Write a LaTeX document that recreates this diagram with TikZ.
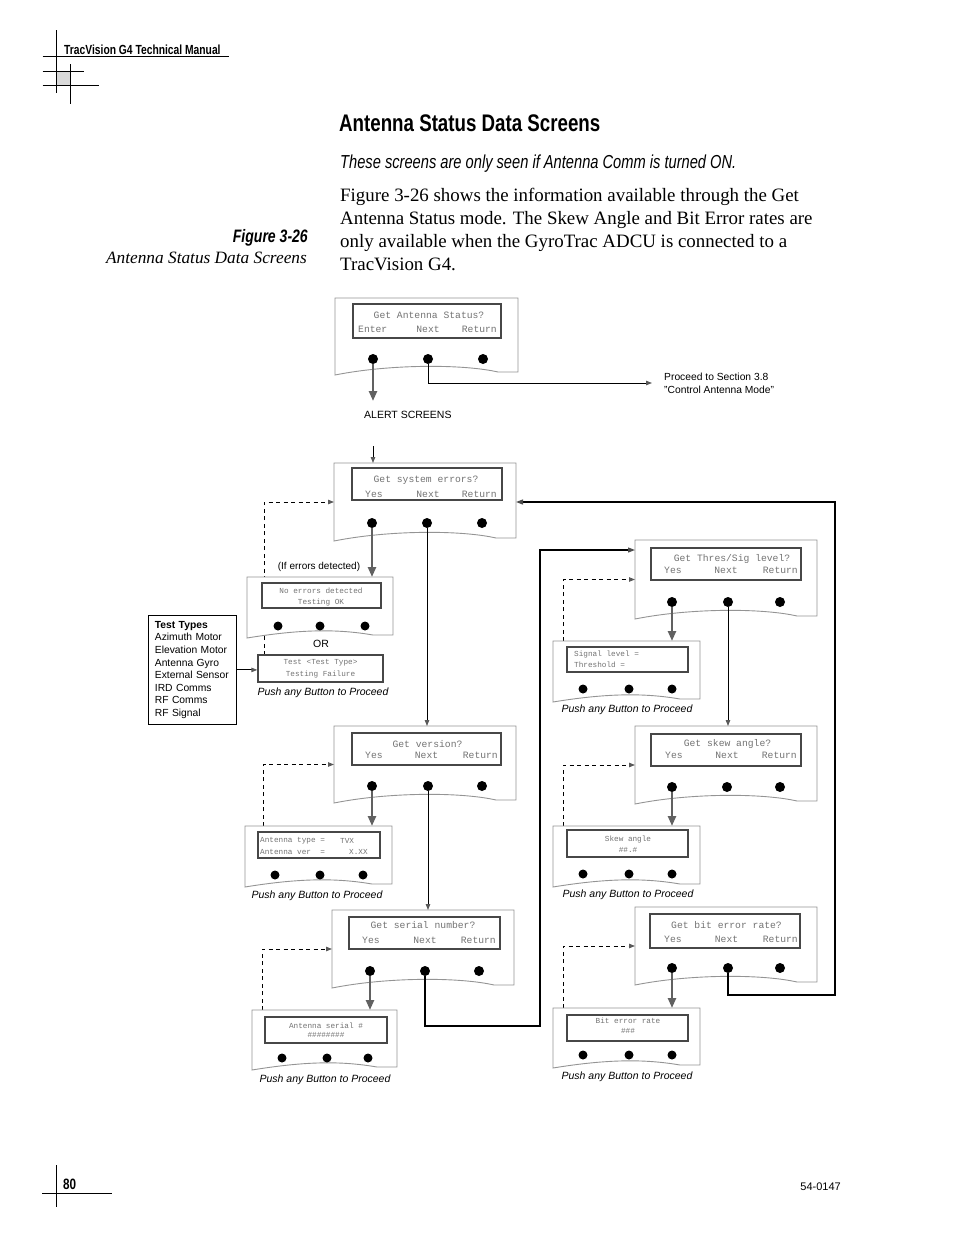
\documentclass[tikz,border=0pt]{standalone}
\usepackage{fontspec}
\setmainfont{Liberation Serif}
\setsansfont{Liberation Sans}
\newfontfamily\condfont[FakeStretch=0.78]{Liberation Sans}
\newfontfamily\lcdfont{Liberation Mono}
\usetikzlibrary{arrows.meta}
\pgfdeclarelayer{bg}
\pgfsetlayers{bg,main}
\tikzset{
  panelline/.style={draw=black!42, line width=0.9pt, fill=white},
  lcdbox/.style={draw=black!72, line width=1.8pt},
  slcdbox/.style={draw=black!72, line width=1.4pt},
  btn/.style={circle, fill=black, draw=none, inner sep=0pt, minimum size=10pt},
  sbtn/.style={circle, fill=black, draw=none, inner sep=0pt, minimum size=9pt},
  lcdt/.style={font=\lcdfont\fontsize{9.7}{10}\selectfont, text=black!55, inner sep=0pt},
  slcdt/.style={font=\lcdfont\fontsize{7.7}{8}\selectfont, text=black!55, inner sep=0pt},
  lbl/.style={font=\sffamily\fontsize{10.5}{12}\selectfont, inner sep=0pt},
  push/.style={font=\sffamily\itshape\fontsize{10.5}{12}\selectfont, inner sep=0pt},
  yesarr/.style={draw=black!62, line width=2.4pt, -{Triangle[length=10pt,width=8pt]}},
  thinarr/.style={draw=black, line width=0.9pt, -{Triangle[length=6pt,width=4.5pt,color=black!65]}},
  loopline/.style={draw=black, line width=1.2pt, -{Triangle[length=7pt,width=5pt,color=black!70]}},
  dasharr/.style={draw=black, line width=0.9pt, dash pattern=on 4pt off 3.5pt, -{Triangle[length=6pt,width=4.5pt,color=black!65]}},
  bodyt/.style={anchor=base west, inner sep=0pt, font=\fontsize{18.9}{23}\selectfont},
}
% #1 name, #2 x1, #3 x2, #4 top, #5 bottom, #6 curve depth
\newcommand\scrpanel[6]{%
  \draw[panelline] (#2,#4) -- (#3,#4) -- (#3,#5-3) -- (#3-20,#5-3)
     .. controls (#3-55,#5-#6) and (#2+55,#5-#6) .. (#2,#5) -- cycle;
  \coordinate (#1-n) at ({(#2+#3)/2},#4);
  \coordinate (#1-w) at (#2,{(#4+#5)/2});
  \coordinate (#1-e) at (#3,{(#4+#5)/2});
  \coordinate (#1-wt) at (#2,#4+10);
}
\begin{document}
\begin{tikzpicture}[x=1pt,y=-1pt]
\useasboundingbox (0,0) rectangle (954,1235);

% ---------- header ----------
\fill[black!15] (56.5,71.5) rectangle (70.5,85);
\draw[line width=0.8pt] (56.5,30) -- (56.5,93);
\draw[line width=0.8pt] (42.5,56.5) -- (229,56.5);
\draw[line width=0.8pt] (70.5,64) -- (70.5,104);
\draw[line width=0.8pt] (42.5,71.5) -- (84,71.5);
\draw[line width=0.8pt] (42.5,85) -- (99,85);
\node[anchor=base west, inner sep=0pt, font=\condfont\bfseries\fontsize{13.2}{15}\selectfont] (hdr) at (64,54) {TracVision G4 Technical Manual};

% ---------- footer ----------
\draw[line width=0.8pt] (56.5,1165) -- (56.5,1207);
\draw[line width=0.8pt] (42,1193) -- (112,1193);
\node[anchor=base west, inner sep=0pt, font=\condfont\bfseries\fontsize{15}{17}\selectfont] (pg) at (63,1189) {80};
\node[anchor=base east, inner sep=0pt, font=\sffamily\fontsize{11}{13}\selectfont] (docno) at (841,1190) {54-0147};

% ---------- titles and text ----------
\node[anchor=base west, inner sep=0pt, font=\condfont\bfseries\fontsize{24}{28}\selectfont] (title) at (339,131) {Antenna Status Data Screens};
\node[anchor=base west, inner sep=0pt, font=\condfont\itshape\fontsize{18.8}{22}\selectfont] (subtitle) at (340,168) {These screens are only seen if Antenna Comm is turned ON.};
\node[bodyt] (p1) at (340,201) {Figure 3-26 shows the information available through the Get};
\node[bodyt] (p2) at (340,224) {Antenna Status mode. The Skew Angle and Bit Error rates are};
\node[bodyt] (p3) at (340,247) {only available when the GyroTrac ADCU is connected to a};
\node[bodyt] (p4) at (340,270) {TracVision G4.};
\node[anchor=base east, inner sep=0pt, font=\condfont\bfseries\itshape\fontsize{18}{21}\selectfont] (fig) at (308,242) {Figure 3-26};
\node[anchor=base east, inner sep=0pt, font=\itshape\fontsize{17.3}{20}\selectfont] (cap) at (307,263) {Antenna Status Data Screens};

% ---------- panel A ----------
\scrpanel{A}{335}{518}{298}{375}{11}
\draw[lcdbox] (353,304) rectangle (501,338);
\node[lcdt] at (429,315) {Get Antenna Status?};
\node[lcdt,anchor=west] at (358,329) {Enter};
\node[lcdt] at (428,329) {Next};
\node[lcdt,anchor=east] at (497,329) {Return};
\node[btn] (A1) at (373,359) {};
\node[btn] (A2) at (428,359) {};
\node[btn] (A3) at (483,359) {};

% ---------- panel B ----------
\scrpanel{B}{334}{516}{463}{541}{11}
\draw[lcdbox] (352,468) rectangle (502,500);
\node[lcdt] at (426,480) {Get system errors?};
\node[lcdt,anchor=west] at (365,494) {Yes};
\node[lcdt] at (428,494) {Next};
\node[lcdt,anchor=east] at (497,494) {Return};
\node[btn] (B1) at (372,523) {};
\node[btn] (B2) at (427,523) {};
\node[btn] (B3) at (482,523) {};

% ---------- panel C ----------
\scrpanel{C}{334}{516}{726}{803}{11}
\draw[lcdbox] (352,733) rectangle (501,765);
\node[lcdt] at (427.5,744) {Get version?};
\node[lcdt,anchor=west] at (365,755) {Yes};
\node[lcdt] at (426.5,755) {Next};
\node[lcdt,anchor=east] at (498,755) {Return};
\node[btn] (C1) at (372,786) {};
\node[btn] (C2) at (428,786) {};
\node[btn] (C3) at (482,786) {};

% ---------- panel D ----------
\scrpanel{D}{332}{514}{910}{988}{11}
\draw[lcdbox] (349,917) rectangle (500,949);
\node[lcdt] at (423,925) {Get serial number?};
\node[lcdt,anchor=west] at (362,940) {Yes};
\node[lcdt] at (425,940) {Next};
\node[lcdt,anchor=east] at (496,940) {Return};
\node[btn] (D1) at (370,971) {};
\node[btn] (D2) at (425,971) {};
\node[btn] (D3) at (479,971) {};

% ---------- panel E ----------
\scrpanel{E}{635}{817}{540}{619}{11}
\draw[lcdbox] (651,548) rectangle (801,580);
\node[lcdt] at (732,559) {Get Thres/Sig level?};
\node[lcdt,anchor=west] at (664,570) {Yes};
\node[lcdt] at (726,570) {Next};
\node[lcdt,anchor=east] at (798,570) {Return};
\node[btn] (E1) at (672,602) {};
\node[btn] (E2) at (728,602) {};
\node[btn] (E3) at (780,602) {};

% ---------- panel F ----------
\scrpanel{F}{635}{817}{726}{804}{11}
\draw[lcdbox] (651,734) rectangle (801,766);
\node[lcdt] at (727.5,744) {Get skew angle?};
\node[lcdt,anchor=west] at (665,755) {Yes};
\node[lcdt] at (727,755) {Next};
\node[lcdt,anchor=east] at (797,755) {Return};
\node[btn] (F1) at (672,787) {};
\node[btn] (F2) at (727,787) {};
\node[btn] (F3) at (780,787) {};

% ---------- panel G ----------
\scrpanel{G}{635}{817}{907}{985}{11}
\draw[lcdbox] (650,914) rectangle (800,948);
\node[lcdt] at (726.5,925) {Get bit error rate?};
\node[lcdt,anchor=west] at (664,939) {Yes};
\node[lcdt] at (726.5,939) {Next};
\node[lcdt,anchor=east] at (798,939) {Return};
\node[btn] (G1) at (672,968) {};
\node[btn] (G2) at (728,968) {};
\node[btn] (G3) at (780,968) {};

% ---------- small panels ----------
\scrpanel{NE}{247}{393}{577}{638}{9}
\draw[slcdbox] (262,583) rectangle (381,608);
\node[slcdt] at (321,591) {No errors detected};
\node[slcdt] at (321,602) {Testing OK};
\node[sbtn] (NE1) at (278,626) {};
\node[sbtn] (NE2) at (320,626) {};
\node[sbtn] (NE3) at (365,626) {};

\node[slcdbox, minimum width=125pt, minimum height=27pt, inner sep=0pt] (TB) at (320.5,668.5) {};
\node[slcdt] at (320.5,663) {Test <Test Type>};
\node[slcdt] at (320.5,674) {Testing Failure};

\scrpanel{AT}{245}{392}{826}{887}{9}
\draw[slcdbox] (258,832) rectangle (380,858);
\node[slcdt,anchor=west] at (260,841) {Antenna type =};
\node[slcdt,anchor=west] at (340,841) {TVX};
\node[slcdt,anchor=west] at (260,852) {Antenna ver\ \ =};
\node[slcdt,anchor=west] at (349,852) {X.XX};
\node[sbtn] (AT1) at (275,875) {};
\node[sbtn] (AT2) at (320,875) {};
\node[sbtn] (AT3) at (363,875) {};

\scrpanel{AS}{252}{397}{1010}{1070}{9}
\draw[slcdbox] (265,1017) rectangle (387,1043);
\node[slcdt] at (326,1026) {Antenna serial \#};
\node[slcdt] at (326,1035) {\#\#\#\#\#\#\#\#};
\node[sbtn] (AS1) at (282,1058) {};
\node[sbtn] (AS2) at (327,1058) {};
\node[sbtn] (AS3) at (368,1058) {};

\scrpanel{SG}{553}{700}{641}{702}{9}
\draw[slcdbox] (567,647) rectangle (688,672);
\node[slcdt,anchor=west] at (574,654) {Signal level =};
\node[slcdt,anchor=west] at (574,665) {Threshold =};
\node[sbtn] (SG1) at (583,689) {};
\node[sbtn] (SG2) at (629,689) {};
\node[sbtn] (SG3) at (672,689) {};

\scrpanel{SK}{553}{700}{826}{887}{9}
\draw[slcdbox] (567,830) rectangle (688,857);
\node[slcdt] at (628,839) {Skew angle};
\node[slcdt] at (628,850) {\#\#.\#};
\node[sbtn] (SK1) at (583,874) {};
\node[sbtn] (SK2) at (629,874) {};
\node[sbtn] (SK3) at (672,874) {};

\scrpanel{BE}{553}{700}{1008}{1068}{9}
\draw[slcdbox] (567,1015) rectangle (688,1041);
\node[slcdt] at (628,1021) {Bit error rate};
\node[slcdt] at (628,1031) {\#\#\#};
\node[sbtn] (BE1) at (583,1055) {};
\node[sbtn] (BE2) at (629,1055) {};
\node[sbtn] (BE3) at (672,1055) {};

% ---------- labels ----------
\node[lbl, anchor=west] (alertlbl) at (364,415) {ALERT SCREENS};
\node[lbl, anchor=west, align=left, font=\sffamily\fontsize{10.3}{13}\selectfont] (proclbl) at (664,383.5) {Proceed to Section 3.8\\"Control Antenna Mode"};
\node[lbl, font=\sffamily\fontsize{10}{12}\selectfont] (iflbl) at (319,567) {(If errors detected)};
\node[lbl] (orlbl) at (321,644) {OR};
\node[push] (pNE) at (323,693) {Push any Button to Proceed};
\node[push] (pAT) at (317,896) {Push any Button to Proceed};
\node[push] (pAS) at (325,1080) {Push any Button to Proceed};
\node[push] (pSG) at (627,710) {Push any Button to Proceed};
\node[push] (pSK) at (628,895) {Push any Button to Proceed};
\node[push] (pBE) at (627,1077) {Push any Button to Proceed};

\node[draw, line width=0.8pt, anchor=north west, minimum width=88pt, minimum height=109pt,
      inner xsep=6.5pt, inner ysep=3pt, text width=75pt, align=left,
      font=\sffamily\fontsize{10.3}{12.6}\selectfont] (tt) at (148,615)
  {\textbf{Test Types}\\Azimuth Motor\\Elevation Motor\\Antenna Gyro\\External Sensor\\IRD Comms\\RF Comms\\RF Signal};

% ---------- free-end coordinates ----------
\coordinate (alert) at (373,401);
\coordinate (proc) at (652,383);
\coordinate (bin) at (373,446);
\coordinate (dB) at (264,655);
\coordinate (dC) at (263,826);
\coordinate (dD) at (262,1010);
\coordinate (dE) at (563,641);
\coordinate (dF) at (563,826);
\coordinate (dG) at (563,1008);
\coordinate (jD) at (540,1026);
\coordinate (jG) at (835,995);

% ---------- connectors ----------
\draw[yesarr] (A1) -- (alert);
\draw[thinarr] (A2) |- (proc);
\draw[thinarr] (bin) -- (bin |- B-n);
\draw[yesarr] (B1) -- (B1 |- NE-n);
\draw[thinarr] (B2) -- (B2 |- C-n);
\draw[thinarr] (tt.east) -- (tt.east -| TB.west);
\draw[yesarr] (C1) -- (C1 |- AT-n);
\draw[thinarr] (C2) -- (C2 |- D-n);
\draw[yesarr] (D1) -- (D1 |- AS-n);
\draw[loopline] (D2) |- (jD) |- (E-wt);
\draw[yesarr] (E1) -- (E1 |- SG-n);
\draw[thinarr] (E2) -- (E2 |- F-n);
\draw[yesarr] (F1) -- (F1 |- SK-n);
\draw[yesarr] (G1) -- (G1 |- BE-n);
\draw[loopline] (G2) |- (jG) |- (B-e);

\begin{pgfonlayer}{bg}
\draw[dasharr] (dB) |- (B-w);
\draw[dasharr] (dC) |- (C-w);
\draw[dasharr] (dD) |- (D-w);
\draw[dasharr] (dE) |- (E-w);
\draw[dasharr] (dF) |- (F-w);
\draw[dasharr] (dG) |- (G-w);
\end{pgfonlayer}
\end{tikzpicture}
\end{document}
